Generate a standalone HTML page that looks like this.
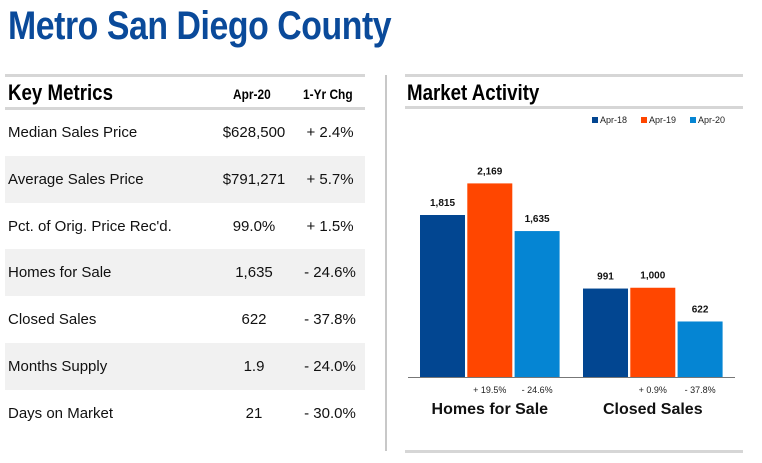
<!DOCTYPE html>
<html><head><meta charset="utf-8"><style>
body{margin:0;width:762px;height:463px;background:#fff;font-family:"Liberation Sans",sans-serif;position:relative;overflow:hidden}
.abs{position:absolute}
#title{left:8px;top:4px;font-size:40px;font-weight:bold;color:#0a4a9a;transform:scaleX(0.845);transform-origin:left top;white-space:nowrap;letter-spacing:-0.5px}
.hline{position:absolute;height:3px;background:#d6d6d6}
.row{position:absolute;left:5px;width:360px;height:47px;font-size:15px;color:#111}
.row span{position:absolute;top:15px;white-space:nowrap}
.row span.c{width:100px;text-align:center}
.shade{background:#f1f1f1}
.hdr{font-weight:bold;transform:scaleX(0.85);transform-origin:left top;white-space:nowrap}
</style></head><body>
<div id="title" class="abs">Metro San Diego County</div>
<div class="hline" style="left:5px;top:74px;width:360px"></div>
<div class="hline" style="left:5px;top:107px;width:360px"></div>
<div class="abs hdr" style="left:8px;top:80px;font-size:22px">Key Metrics</div>
<div class="abs hdr" style="left:233px;top:86px;font-size:14px">Apr-20</div>
<div class="abs hdr" style="left:303px;top:86px;font-size:14px">1-Yr Chg</div>
<div id="rows"></div>
<div class="abs" style="left:385px;top:75px;width:2px;height:376px;background:#c8c8c8"></div>
<div class="hline" style="left:405px;top:74px;width:338px"></div>
<div class="hline" style="left:405px;top:106px;width:338px"></div>
<div class="hline" style="left:405px;top:450px;width:338px"></div>
<div class="abs hdr" style="left:407px;top:80px;font-size:22px">Market Activity</div>
<svg class="abs" style="left:0;top:0" width="762" height="463" id="chart"></svg>
<script>
var metrics=["Median Sales Price","Average Sales Price","Pct. of Orig. Price Rec'd.","Homes for Sale","Closed Sales","Months Supply","Days on Market"];
var metricVals=["$628,500","$791,271","99.0%","1,635","622","1.9","21"];
var metricChg=["+ 2.4%","+ 5.7%","+ 1.5%","- 24.6%","- 37.8%","- 24.0%","- 30.0%"];
var rowsEl=document.getElementById('rows');
metrics.forEach(function(m,i){
  var r=document.createElement('div');
  r.className='row'+(i%2?' shade':'');
  r.style.top=(109+i*46.8)+'px';
  
  
  r.innerHTML='<span style="left:3px">'+m+'</span><span class="c" style="left:199px">'+metricVals[i]+'</span><span class="c" style="left:275px">'+metricChg[i]+'</span>';
  rowsEl.appendChild(r);
});
var categories=["Homes for Sale","Closed Sales"];
var seriesNames=["Apr-18","Apr-19","Apr-20"];
var colors=["#024691","#ff4600","#0585d3"];
var apr18=[1815,991];
var apr19=[2169,1000];
var apr20=[1635,622];
var pctChg19=["+ 19.5%","+ 0.9%"];
var pctChg20=["- 24.6%","- 37.8%"];
var series=[apr18,apr19,apr20];
var NS='http://www.w3.org/2000/svg';
var svg=document.getElementById('chart');
var base=377,scale=162/1815;
function y(v){return base-v*scale;}
function x(ci,si){return 420+ci*163+si*47.3;}
function mk(tag,attrs,txt){var e=document.createElementNS(NS,tag);for(var k in attrs)e.setAttribute(k,attrs[k]);if(txt!==undefined)e.textContent=txt;svg.appendChild(e);return e;}
var bw=45;
categories.forEach(function(c,ci){
  series.forEach(function(s,si){
    var b=mk('rect',{x:x(ci,si),y:y(s[ci]),width:bw,height:base-y(s[ci]),fill:colors[si]});
    
    
    var t=mk('text',{x:x(ci,si)+bw/2,y:y(s[ci])-9,'font-size':10,'font-weight':'bold','text-anchor':'middle',fill:'#111','font-family':'Liberation Sans'},s[ci].toLocaleString('en-US'));
    
    
  });
  var p1=mk('text',{x:x(ci,1)+bw/2,y:393,'font-size':9,'text-anchor':'middle',fill:'#222','font-family':'Liberation Sans'},pctChg19[ci]);
  
  
  var p2=mk('text',{x:x(ci,2)+bw/2,y:393,'font-size':9,'text-anchor':'middle',fill:'#222','font-family':'Liberation Sans'},pctChg20[ci]);
  
  
  var cl=mk('text',{x:x(ci,1)+bw/2,y:414,'font-size':16,'font-weight':'bold','text-anchor':'middle',fill:'#111','font-family':'Liberation Sans'},c);
  
  
});
var ax=mk('line',{x1:408,x2:735,y1:base+0.5,y2:base+0.5,stroke:'#777','stroke-width':1});


seriesNames.forEach(function(n,i){
  var lx=592+i*49;
  var sq=mk('rect',{x:lx,y:117,width:6,height:6,fill:colors[i]});
  
  
  var lt=mk('text',{x:lx+8,y:123,'font-size':9,fill:'#222','font-family':'Liberation Sans'},n);
  
  
});
</script>
</body></html>
